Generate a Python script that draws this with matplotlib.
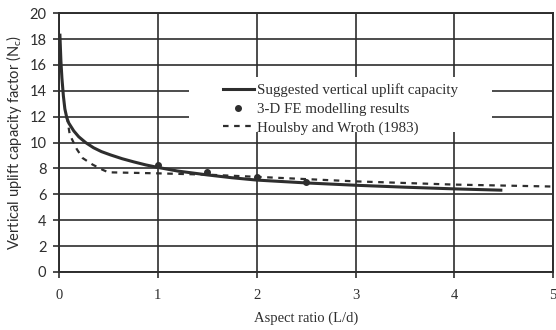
import matplotlib
matplotlib.use('Agg')
import matplotlib.pyplot as plt
from matplotlib.patches import Rectangle

plt.rcParams['mathtext.default'] = 'regular'

# 建议的竖向抗拔承载力曲线
suggested_x = [0.01, 0.02, 0.03, 0.045, 0.06, 0.08, 0.1, 0.15, 0.2, 0.27, 0.35, 0.43, 0.52,
               0.64, 0.76, 0.88, 1.0, 1.2, 1.5, 1.75, 2.0, 2.5, 3.0, 3.5, 4.0, 4.47]
suggested_y = [18.3, 16.3, 15.0, 13.6, 12.6, 11.9, 11.5, 10.9, 10.45, 10.0, 9.6, 9.3, 9.05,
               8.75, 8.5, 8.27, 8.08, 7.8, 7.5, 7.28, 7.1, 6.88, 6.7, 6.55, 6.42, 6.32]

# 三维有限元结果
fe_x = [1.0, 1.5, 2.0, 2.5]
fe_y = [8.3, 7.75, 7.32, 6.92]

# Houlsby and Wroth (1983)
hw_x = [0.08, 0.11, 0.18, 0.24, 0.34, 0.44, 0.5, 1.0, 1.5, 2.0, 3.0, 4.0, 5.0]
hw_y = [12.0, 10.6, 9.5, 8.8, 8.3, 7.9, 7.7, 7.62, 7.52, 7.35, 7.0, 6.75, 6.6]

x_ticks = [0, 1, 2, 3, 4, 5]
y_ticks = list(range(0, 21, 2))

ink = '#2e2e2e'
serif = 'Liberation Serif'
sans = 'Lato'

fig = plt.figure(figsize=(5.56, 3.30), dpi=100)
ax = fig.add_axes([0.106, 0.176, 0.889, 0.784])

ax.set_xlim(0, 5)
ax.set_ylim(0, 20)
ax.set_xticks(x_ticks)
ax.set_yticks(y_ticks)
ax.grid(True, color=ink, linewidth=1.2)
for sp in ax.spines.values():
    sp.set_color(ink)
    sp.set_linewidth(1.4)

ax.tick_params(axis='x', direction='out', length=4, width=1.2, color=ink,
               pad=8, labelsize=10.5, labelcolor=ink)
ax.tick_params(axis='y', direction='out', length=4, width=1.2, color=ink,
               pad=5, labelsize=10.5, labelcolor=ink)
for lab in ax.get_xticklabels():
    lab.set_family(serif)
for lab in ax.get_yticklabels():
    lab.set_family(sans)

# 图例背景（遮住网格线）
ax.add_patch(Rectangle((1.32, 10.8), 3.06, 4.3, facecolor='white',
                       edgecolor='none', zorder=2))

ax.plot(suggested_x, suggested_y, color=ink, linewidth=2.2, zorder=3,
        label='Suggested vertical uplift capacity')
ax.plot(fe_x, fe_y, linestyle='none', marker='o', markersize=4, color=ink,
        zorder=4, label='3-D FE modelling results')
ax.plot(hw_x, hw_y, color=ink, linewidth=1.6, linestyle=(0, (2.5, 2.5)),
        zorder=3, label='Houlsby and Wroth (1983)')

ax.legend(loc='upper left', bbox_to_anchor=(1.58, 15.15),
          bbox_transform=ax.transData, frameon=False, borderpad=0,
          handlelength=2.1, handletextpad=0.2, labelspacing=0.35,
          prop={'family': serif, 'size': 10.8}, labelcolor=ink)

ax.set_xlabel('Aspect ratio (L/d)', fontsize=10.5, family=serif, color=ink,
              labelpad=7)
ax.set_ylabel('Vertical uplift capacity factor (N$_c$)', fontsize=10.5,
              family=sans, color=ink, labelpad=4)

fig.savefig('out.png', dpi=100)
